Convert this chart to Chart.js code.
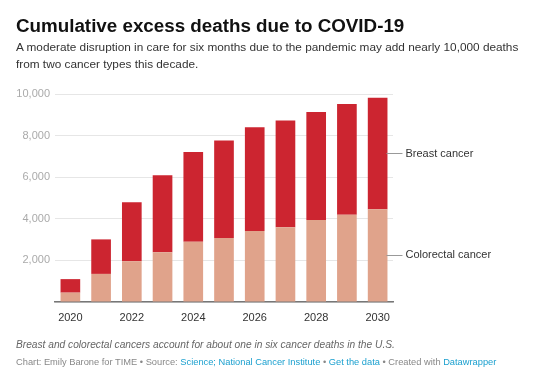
<!DOCTYPE html>
<html>
<head>
<meta charset="utf-8">
<script src="https://cdn.jsdelivr.net/npm/chart.js@4"></script>
<style>
  html, body { margin: 0; padding: 0; background: #fff; }
  body { width: 552px; height: 377px; position: relative; overflow: hidden; font-family: "Liberation Sans", Arial, sans-serif; }
  #c { position: absolute; left: 0; top: 0; }
  .t { position: absolute; left: 16px; white-space: nowrap; }
  #title { top: 14px; font-size: 18.8px; font-weight: bold; color: #111; line-height: 24px; }
  #sub { top: 39px; font-size: 11.8px; color: #333; line-height: 17px; }
  #note { top: 338px; font-size: 10.2px; font-style: italic; color: #666; line-height: 14px; }
  #cred { top: 355px; font-size: 9.3px; color: #888; line-height: 14px; }
  #cred a { color: #1ba0cf; text-decoration: none; }
</style>
</head>
<body>
<canvas id="c" width="552" height="377"></canvas>
<div class="t" id="title">Cumulative excess deaths due to COVID-19</div>
<div class="t" id="sub">A moderate disruption in care for six months due to the pandemic may add nearly 10,000 deaths<br>from two cancer types this decade.</div>
<div class="t" id="note">Breast and colorectal cancers account for about one in six cancer deaths in the U.S.</div>
<div class="t" id="cred">Chart: Emily Barone for TIME • Source: <a>Science; National Cancer Institute</a> • <a>Get the data</a> • Created with <a>Datawrapper</a></div>
<script>
const years = ["2020","2021","2022","2023","2024","2025","2026","2027","2028","2029","2030"];
const colorectal = [450, 1350, 1960, 2390, 2900, 3080, 3410, 3590, 3940, 4200, 4460];
const breast = [650, 1660, 2830, 3700, 4310, 4680, 4990, 5130, 5190, 5320, 5360];
const seriesNames = ["Colorectal cancer", "Breast cancer"];
const yTicks = [0, 2000, 4000, 6000, 8000, 10000];

const endLabels = {
  id: 'endLabels',
  afterDatasetsDraw(chart) {
    const ctx = chart.ctx;
    ctx.save();
    chart.data.datasets.forEach((ds, i) => {
      const meta = chart.getDatasetMeta(i);
      const bar = meta.data[meta.data.length - 1];
      const y = (bar.y + bar.base) / 2;
      const x0 = bar.x + bar.width / 2 - 1;
      ctx.strokeStyle = '#999';
      ctx.lineWidth = 1;
      ctx.beginPath();
      ctx.moveTo(x0, Math.round(y) + 0.5);
      ctx.lineTo(x0 + 16, Math.round(y) + 0.5);
      ctx.stroke();
      ctx.fillStyle = '#333';
      ctx.font = '11px "Liberation Sans", Arial, sans-serif';
      ctx.textBaseline = 'middle';
      ctx.textAlign = 'left';
      ctx.fillText(ds.label, x0 + 19, y);
    });
    ctx.restore();
  }
};

new Chart(document.getElementById('c'), {
  type: 'bar',
  data: {
    labels: years,
    datasets: [
      { label: seriesNames[0], data: colorectal, backgroundColor: '#e0a38b', borderWidth: 0 },
      { label: seriesNames[1], data: breast, backgroundColor: '#cc2530', borderWidth: 0 }
    ]
  },
  options: {
    responsive: false,
    animation: false,
    devicePixelRatio: 1,
    layout: { padding: { top: 94, right: 159, left: 0, bottom: 0 } },
    plugins: { legend: { display: false }, tooltip: { enabled: false }, title: { display: false } },
    datasets: { bar: { categoryPercentage: 1.0, barPercentage: 0.64 } },
    scales: {
      x: {
        stacked: true,
        offset: true,
        grid: { display: false, drawTicks: false },
        border: { display: true, color: '#777', width: 1.5 },
        ticks: {
          autoSkip: false, maxRotation: 0, padding: 9,
          color: '#333',
          font: { size: 11, family: '"Liberation Sans", Arial, sans-serif' },
          callback: function(v, i) { return i % 2 === 0 ? years[i] : ''; }
        },
        afterFit(scale) { scale.height = 75; }
      },
      y: {
        stacked: true,
        min: 0, max: 10000,
        afterBuildTicks(scale) { scale.ticks = yTicks.map(v => ({ value: v })); },
        grid: { color: '#e6e6e6', drawTicks: false, lineWidth: 1 },
        border: { display: false },
        ticks: {
          padding: 5,
          color: '#aaa',
          font: { size: 11, family: '"Liberation Sans", Arial, sans-serif' },
          callback: v => v === 0 ? '' : v.toLocaleString('en-US')
        },
        afterFit(scale) { scale.width = 55; }
      }
    }
  },
  plugins: [endLabels]
});
</script>
</body>
</html>
